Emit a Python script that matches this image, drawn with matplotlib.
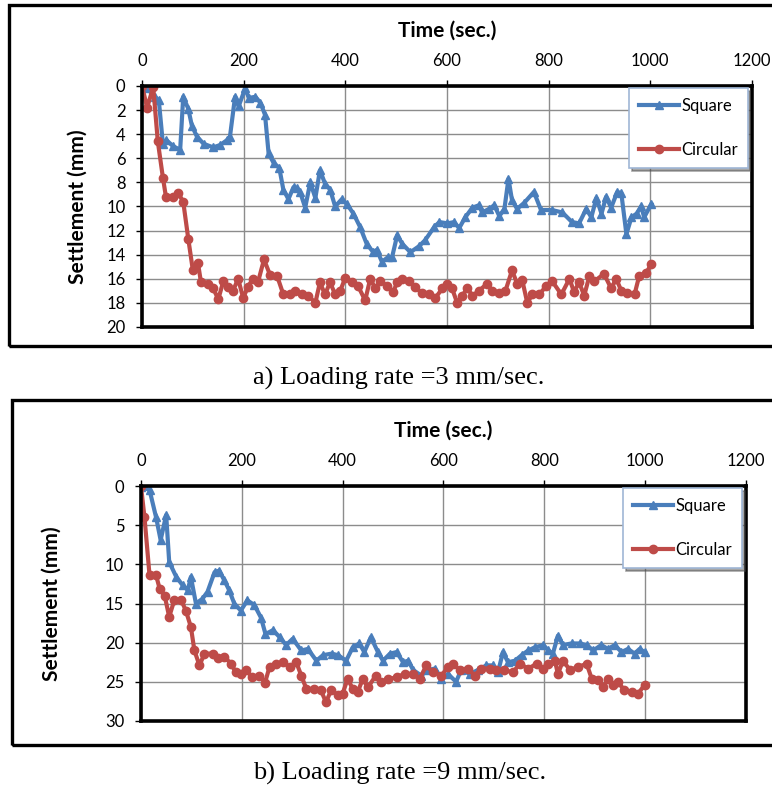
import matplotlib
matplotlib.use('Agg')
from matplotlib import pyplot as plt
from matplotlib.patches import Rectangle

# a) loading rate 3 mm/sec
ta_sq = [0, 10, 25, 33, 41, 48, 61, 75, 81, 91, 98, 108, 121, 140, 154, 167, 173, 183, 190, 203,
         210, 223, 233, 242, 249, 259, 270, 278, 288, 298, 305, 311, 321, 331, 341, 350, 360, 370, 380, 393,
         403, 416, 429, 442, 455, 462, 472, 484, 492, 502, 512, 528, 545, 557, 575, 585, 601, 614, 624, 636,
         650, 663, 669, 683, 693, 703, 713, 721, 728, 738, 752, 771, 785, 807, 827, 846, 860, 874, 884, 894,
         904, 913, 923, 935, 943, 953, 963, 973, 982, 988, 1002]
sa_sq = [0, 0.2, 0.9, 1.2, 4.8, 4.5, 5.0, 5.3, 0.9, 1.9, 3.3, 4.2, 4.8, 5.1, 4.9, 4.5, 4.2, 0.9, 1.7, 0.2,
         1.0, 0.9, 1.4, 2.4, 5.6, 6.4, 6.8, 8.6, 9.4, 8.4, 8.5, 8.8, 10.1, 8.0, 9.3, 7.0, 8.1, 8.6, 10.0, 9.4,
         9.8, 10.6, 11.7, 13.1, 13.8, 13.6, 14.6, 14.2, 14.2, 12.4, 13.1, 13.8, 13.3, 12.8, 11.7, 11.3, 11.4, 11.3, 11.8, 10.9,
         10.1, 9.9, 10.5, 10.2, 9.9, 10.8, 10.2, 7.7, 9.5, 10.2, 9.7, 8.8, 10.3, 10.3, 10.5, 11.3, 11.4, 10.2, 10.9, 9.3,
         10.6, 9.2, 10.1, 8.8, 8.9, 12.3, 10.9, 10.6, 10.0, 10.9, 9.8]
ta_ci = [0, 10, 22, 31, 41, 47, 61, 71, 81, 91, 100, 110, 116, 130, 140, 150, 160, 169, 179, 189,
         199, 208, 218, 228, 240, 252, 266, 278, 291, 301, 315, 327, 341, 350, 360, 370, 380, 390, 400, 413,
         425, 439, 449, 459, 469, 482, 494, 502, 512, 526, 537, 551, 565, 577, 591, 601, 610, 620, 630, 640,
         650, 663, 679, 689, 703, 715, 728, 738, 748, 758, 768, 782, 795, 807, 825, 841, 850, 860, 870, 880,
         890, 909, 923, 933, 943, 955, 969, 978, 992, 1002]
sa_ci = [0, 1.8, 0.1, 4.6, 7.6, 9.2, 9.2, 8.9, 9.6, 12.7, 15.3, 14.7, 16.3, 16.4, 16.8, 17.7, 16.2, 16.7, 17.0, 16.0,
         17.6, 16.7, 16.0, 16.3, 14.4, 15.7, 15.8, 17.3, 17.3, 17.0, 17.3, 17.4, 18.0, 16.3, 17.3, 16.3, 17.3, 17.0, 15.9, 16.3,
         16.6, 17.8, 16.0, 16.8, 16.2, 16.6, 17.1, 16.3, 16.0, 16.2, 16.7, 17.2, 17.3, 17.6, 16.8, 16.4, 16.8, 18.0, 17.4, 16.8,
         17.4, 17.0, 16.4, 17.0, 17.2, 17.0, 15.3, 16.4, 16.1, 18.0, 17.3, 17.3, 16.6, 16.2, 17.3, 16.0, 17.1, 16.3, 17.4, 15.8,
         16.2, 15.6, 16.8, 16.0, 17.0, 17.2, 17.3, 15.8, 15.5, 14.8]

# b) loading rate 9 mm/sec
tb_sq = [0, 17, 30, 39, 50, 56, 70, 83, 93, 99, 109, 122, 132, 146, 155, 165, 175, 185, 198, 211,
         225, 238, 247, 262, 275, 288, 301, 318, 331, 348, 361, 378, 391, 407, 420, 433, 443, 456, 470, 480,
         494, 507, 520, 530, 540, 556, 569, 583, 596, 609, 625, 635, 652, 668, 685, 698, 708, 718, 728, 742,
         755, 768, 781, 798, 808, 817, 827, 837, 854, 870, 884, 897, 913, 926, 940, 953, 966, 979, 989, 999]
sb_sq = [0.1, 0.5, 4.0, 6.9, 3.7, 9.7, 11.6, 12.7, 13.3, 11.6, 15.0, 14.4, 13.5, 11.0, 10.8, 12.0, 13.3, 15.0, 15.9, 14.6,
         15.2, 16.8, 18.9, 18.4, 19.3, 20.3, 19.5, 21.0, 20.8, 22.3, 21.6, 21.4, 21.6, 22.3, 20.6, 20.1, 21.2, 19.3, 21.2, 22.3,
         21.4, 21.2, 22.5, 22.3, 23.5, 24.2, 23.5, 23.3, 24.6, 24.0, 25.0, 23.5, 24.0, 23.5, 22.9, 22.9, 23.8, 21.2, 22.5, 22.3,
         21.6, 21.0, 20.6, 20.3, 21.0, 21.4, 19.1, 20.3, 20.1, 20.1, 20.3, 21.0, 20.3, 20.8, 20.3, 21.2, 20.8, 21.4, 20.8, 21.2]
tb_ci = [0, 7, 17, 30, 37, 47, 56, 66, 80, 89, 99, 106, 116, 126, 142, 152, 165, 179, 188, 198,
         208, 221, 235, 246, 255, 268, 282, 295, 308, 318, 328, 344, 357, 367, 377, 391, 400, 410, 420, 430,
         440, 450, 466, 476, 490, 507, 523, 540, 553, 566, 579, 596, 609, 619, 632, 648, 662, 675, 692, 705,
         721, 738, 751, 768, 785, 798, 808, 821, 827, 837, 851, 867, 884, 894, 907, 917, 926, 936, 946, 959,
         973, 986, 999]
sb_ci = [0, 4.0, 11.4, 11.4, 13.1, 14.0, 16.7, 14.6, 14.6, 15.9, 18.0, 21.0, 22.9, 21.4, 21.4, 22.0, 21.8, 22.7, 23.8, 24.0,
         23.5, 24.4, 24.2, 25.1, 23.1, 22.7, 22.5, 23.1, 22.5, 24.2, 25.9, 25.9, 26.1, 27.6, 26.1, 26.7, 26.5, 24.6, 25.9, 26.3,
         24.6, 25.7, 24.2, 25.0, 24.7, 24.4, 24.0, 24.0, 24.6, 22.9, 23.8, 24.2, 23.1, 22.7, 23.5, 23.3, 24.2, 23.3, 23.3, 23.5,
         23.5, 23.8, 22.7, 23.3, 22.7, 23.3, 22.7, 22.3, 24.0, 22.3, 23.5, 23.1, 22.7, 24.6, 24.8, 25.7, 24.6, 25.4, 25.0, 26.1,
         26.3, 26.5, 25.4]

blue = '#4A7EBB'
red = '#BE4B48'
lab_font = 'Lato'

fig = plt.figure(figsize=(7.72, 7.89), dpi=100)

# outer frames around each chart
fig.patches.append(Rectangle((0.0117, 0.5615), 1.2, 0.4322, transform=fig.transFigure,
                             fill=False, lw=2.4, ec='black'))
fig.patches.append(Rectangle((0.0155, 0.0558), 1.2, 0.4372, transform=fig.transFigure,
                             fill=False, lw=2.4, ec='black'))


def draw(ax, t1, s1, t2, s2, ymax, ystep, ylab_x, caption, cap_y):
    ax.plot(t1, s1, '-^', color=blue, lw=3, ms=6, label='Square')
    ax.plot(t2, s2, '-o', color=red, lw=3, ms=6, label='Circular')
    ax.set_xlim(0, 1200)
    ax.set_ylim(ymax, 0)
    ax.set_xticks(range(0, 1201, 200))
    ax.set_yticks(range(0, ymax + 1, ystep))
    ax.xaxis.tick_top()
    ax.xaxis.set_label_position('top')
    ax.tick_params(axis='both', direction='out', length=4, width=1, labelsize=12, pad=8,
                   right=False, bottom=False)
    for lbl in ax.get_xticklabels() + ax.get_yticklabels():
        lbl.set_fontfamily(lab_font)
    ax.grid(True, color='#8c8c8c', lw=1)
    ax.set_axisbelow(True)
    for sp in ax.spines.values():
        sp.set_linewidth(2.6)
        sp.set_color('black')
    ax.set_xlabel('Time (sec.)', fontsize=15, fontweight='bold', family=lab_font, labelpad=12)
    ax.set_ylabel('Settlement (mm)', fontsize=15, fontweight='bold', family=lab_font)
    ax.yaxis.set_label_coords(ylab_x, 0.5)
    leg = ax.legend(loc='upper right', bbox_to_anchor=(0.993, 0.992), frameon=True, fancybox=False,
                    shadow=True, prop={'family': lab_font, 'size': 12}, labelspacing=1.7,
                    handlelength=2.4, handletextpad=0.1, borderpad=0.6, borderaxespad=0)
    leg.get_frame().set_edgecolor('#9fb6d6')
    leg.get_frame().set_linewidth(1.2)
    fig.text(0.517, cap_y, caption, ha='center', va='center', fontsize=19,
             family='Liberation Serif')


ax1 = fig.add_axes([0.184, 0.5856, 0.790, 0.3055])
draw(ax1, ta_sq, sa_sq, ta_ci, sa_ci, 20, 2, -0.09, 'a) Loading rate =3 mm/sec.', 1 - 378 / 789)

ax2 = fig.add_axes([0.1826, 0.0862, 0.7837, 0.2978])
draw(ax2, tb_sq, sb_sq, tb_ci, sb_ci, 30, 5, -0.131, 'b) Loading rate =9 mm/sec.', 1 - 773 / 789)

plt.savefig('out.png', dpi=100)
